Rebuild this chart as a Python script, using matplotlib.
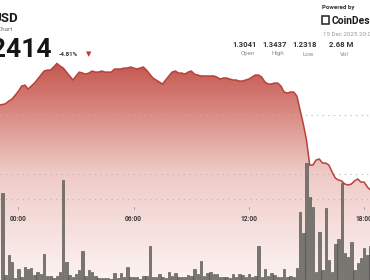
import numpy as np
import matplotlib.pyplot as plt
from matplotlib.colors import LinearSegmentedColormap
from matplotlib.patches import Polygon, Rectangle

plt.rcParams['font.family'] = ['Roboto', 'DejaVu Sans']

# price every 10 minutes, first point at 23:00 of the previous day
price_start = -60  # minutes from 00:00
price = [
    1.3085, 1.3089, 1.3097, 1.3119, 1.3136, 1.3169,
    1.3203, 1.3246, 1.3254, 1.3220, 1.3246, 1.3271, 1.3305, 1.3339, 1.3373, 1.3381,
    1.3381, 1.3407, 1.3437, 1.3415, 1.3398, 1.3364, 1.3331, 1.3297, 1.3331, 1.3364,
    1.3356, 1.3347, 1.3356, 1.3373, 1.3364, 1.3364, 1.3373, 1.3364, 1.3364, 1.3364,
    1.3390, 1.3390, 1.3390, 1.3398, 1.3398, 1.3407, 1.3398, 1.3390, 1.3398, 1.3407,
    1.3381, 1.3347, 1.3314, 1.3297, 1.3280, 1.3263, 1.3297, 1.3331, 1.3364, 1.3373,
    1.3356, 1.3356, 1.3347, 1.3364, 1.3373, 1.3347, 1.3339, 1.3331, 1.3331, 1.3331,
    1.3331, 1.3331, 1.3322, 1.3305, 1.3314, 1.3314, 1.3305, 1.3297, 1.3297, 1.3288,
    1.3288, 1.3297, 1.3305, 1.3322, 1.3339, 1.3339, 1.3322, 1.3280, 1.3263, 1.3263,
    1.3271, 1.3271, 1.3246, 1.3195, 1.3186, 1.3195, 1.3195, 1.3161, 1.3042, 1.2924,
    1.2788, 1.2576, 1.2576, 1.2619, 1.2627, 1.2593, 1.2593, 1.2576, 1.2517, 1.2466,
    1.2449, 1.2441, 1.2415, 1.2407, 1.2415, 1.2441, 1.2458, 1.2432, 1.2432, 1.2390,
    1.2364,
]

# volume bars, 10-minute buckets starting 23:10
volume_start = -50
volume = [
    87, 5, 25, 18, 2, 11, 3, 13, 11, 12, 5, 8, 6, 26, 4, 4, 2, 4, 8, 100,
    18, 5, 3, 6, 10, 29, 4, 10, 8, 4, 2, 2, 2, 2, 1, 7, 2, 7, 3, 13,
    3, 3, 3, 1, 4, 4, 34, 3, 3, 6, 3, 2, 8, 4, 7, 3, 3, 3, 5, 4,
    11, 6, 19, 4, 7, 8, 6, 6, 3, 3, 3, 2, 6, 3, 6, 5, 3, 6, 3, 4,
    34, 3, 11, 4, 7, 5, 3, 3, 11, 3, 4, 3, 12, 68, 47, 117, 83, 73, 8, 48,
    10, 72, 20, 8, 36, 41, 97, 27, 23, 38, 10, 17, 22, 32, 25, 34,
]

tick_times = [0, 360, 720, 1080]
tick_labels = ["00:00", "06:00", "12:00", "18:00"]
price_grid = [1.30, 1.25]
stat_values = ["1.3041", "1.3437", "1.2318", "2.68 M"]
stat_names = ["Open", "High", "Low", "Vol"]

t_price = price_start + 10 * np.arange(len(price))
t_vol = volume_start + 10 * np.arange(len(volume))

W, H = 370, 280
fig = plt.figure(figsize=(W / 100, H / 100), dpi=100)
ax = fig.add_axes([0, 0, 1, 1])
x0, x1 = -57.8, 1098.4
y0, y1 = 1.1602, 1.3975
ax.set_xlim(x0, x1)
ax.set_ylim(y0, y1)
ax.axis('off')

# gradient under the price line
cmap = LinearSegmentedColormap.from_list(
    'fill', [(0, '#fcf3f2'), (0.5, '#efcac6'), (0.77, '#d98a83'), (1, '#c4574f')])
grad = np.linspace(0, 1, 256).reshape(-1, 1)
im = ax.imshow(grad, cmap=cmap, extent=[x0, x1, y0, max(price)],
               origin='lower', aspect='auto', zorder=1)
verts = [(t_price[0], y0)] + list(zip(t_price, price)) + [(t_price[-1], y0)]
poly = Polygon(verts, closed=True, facecolor='none', edgecolor='none')
ax.add_patch(poly)
im.set_clip_path(poly)

ax.plot(t_price, price, color='#b8423a', lw=1.1, zorder=3)

for g in price_grid:
    ax.axhline(g, color='#bfb2b0', lw=0.8, ls=(0, (1, 4)), zorder=2)

# volume on its own scale
axv = ax.twinx()
axv.set_ylim(0, 280)
axv.axis('off')
axv.axhline(81, color='#bfb2b0', lw=0.8, ls=(0, (1, 4)), zorder=1)
axv.bar(t_vol, volume, width=7.5, color='#77756f', edgecolor='#4b4946',
        linewidth=0.4, zorder=2)

tr = axv.get_xaxis_transform()
for t, lab in zip(tick_times, tick_labels):
    axv.plot([t, t], [1 - 207 / H, 1 - 209 / H], color='#999999', lw=0.6,
             transform=tr, zorder=3)
    axv.text(t, 1 - 219 / H, lab, transform=tr, ha='center', va='center',
             fontsize=4.8, fontweight='bold', color='#3a3a3a', zorder=4)

# header
def fx(px):
    return px / W

def fy(py):
    return 1 - py / H

fig.text(fx(18), fy(22), "USD", ha='right', va='baseline', fontsize=9.5,
         fontweight='bold', color='#1a1a1a')
fig.text(fx(13), fy(30.5), "Chart", ha='right', va='baseline', fontsize=4.6,
         color='#777777')
fig.text(fx(52), fy(57), "1.2414", ha='right', va='baseline', fontsize=19,
         fontweight='bold', color='#151515')
fig.text(fx(59), fy(56), "-4.81%", ha='left', va='baseline', fontsize=4.4,
         fontweight='bold', color='#333333')
fig.text(fx(89), fy(54.5), "\u25BC", ha='center', va='center', fontsize=5,
         color='#c0392b', family='DejaVu Sans')

fig.text(fx(322), fy(9.5), "Powered by", ha='left', va='baseline', fontsize=4.4,
         fontweight='bold', color='#333333')
fig.patches.append(Rectangle((fx(322), fy(24)), fx(7), 8 / H, fill=False,
                             edgecolor='#222222', lw=1.1,
                             transform=fig.transFigure, figure=fig))
fig.text(fx(332), fy(23.5), "CoinDesk", ha='left', va='baseline', fontsize=7.4,
         fontweight='bold', color='#1a1a1a')
fig.text(fx(323), fy(36), "15 Dec 2025 20:00", ha='left', va='baseline',
         fontsize=4.4, color='#999999')

for cx, v, n in zip([245, 275, 305, 341], stat_values, stat_names):
    fig.text(fx(cx), fy(47), v, ha='center', va='baseline', fontsize=5.6,
             fontweight='bold', color='#333333')
    fig.text(fx(cx + 3), fy(55.5), n, ha='center', va='baseline', fontsize=4.4,
             color='#888888')

fig.savefig('out.png', dpi=100, facecolor='white')
